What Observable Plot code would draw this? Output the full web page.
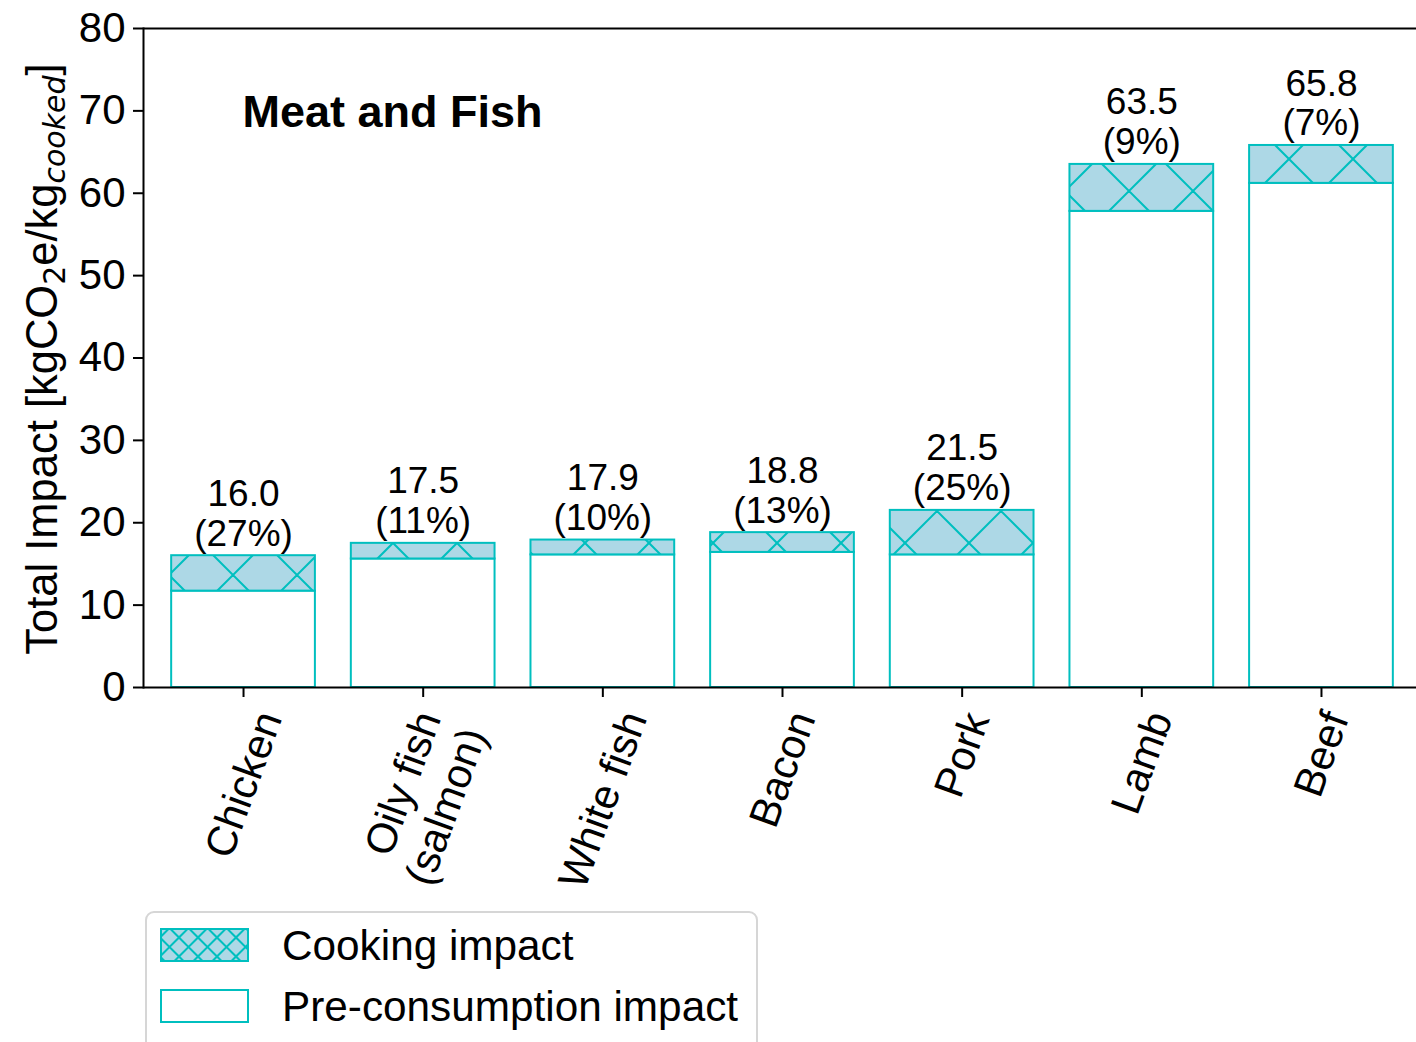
<!DOCTYPE html>
<html><head><meta charset="utf-8">
<script src="https://cdn.jsdelivr.net/npm/d3@7"></script>
<script src="https://cdn.jsdelivr.net/npm/@observablehq/plot@0.6"></script>
<style>
html,body{margin:0;padding:0;background:#fff;overflow:hidden;}
#wrap{position:relative;width:1416px;height:1042px;font-family:"Liberation Sans",Arial,sans-serif;}
#legend{position:absolute;left:145px;top:911px;width:613px;height:145px;border:2px solid #d6d6d6;border-radius:9px;box-sizing:border-box;background:#fff;}
#legend .sw{position:absolute;left:13px;}
#legend .lt{position:absolute;left:135px;font-size:42.3px;line-height:42px;white-space:nowrap;color:#000;}
</style></head><body>
<svg width="0" height="0" style="position:absolute">
  <defs>
    <pattern id="hatchBar" patternUnits="userSpaceOnUse" width="64" height="64">
      <rect width="64" height="64" fill="#add8e6"/>
      <path d="M44,-4L-4,44M68,36L36,68M38,-4L68,26M-4,18L46,68" stroke="#00bfbf" stroke-width="2" fill="none"/>
    </pattern>
    <pattern id="hatchLegend" patternUnits="userSpaceOnUse" width="19" height="19">
      <rect width="19" height="19" fill="#add8e6"/>
      <path d="M11.5,-2L-2,11.5M21,7.5L7.5,21M7.5,-2L21,11.5M-2,7.5L11.5,21" stroke="#00bfbf" stroke-width="2" fill="none"/>
    </pattern>
  </defs>
</svg>
<div id="wrap"><div id="chart"></div><div id="legend"></div></div>
<script>
// ---- data ----
const categories = ["Chicken", "Oily fish\n(salmon)", "White fish", "Bacon", "Pork", "Lamb", "Beef"];
const totalImpact = [16.0, 17.5, 17.9, 18.8, 21.5, 63.5, 65.8];
const cookingSharePct = [27, 11, 10, 13, 25, 9, 7];
const preConsumption = [11.7, 15.6, 16.1, 16.4, 16.1, 57.8, 61.2];
const yTicks = [0, 10, 20, 30, 40, 50, 60, 70, 80];
const seriesNames = ["Cooking impact", "Pre-consumption impact"];
const titleText = "Meat and Fish";

const rows = categories.map((c, i) => ({
  category: c, total: totalImpact[i], pre: preConsumption[i], share: cookingSharePct[i]
}));

const CYAN = "#00bfbf";
const FONT = '"Liberation Sans", Arial, sans-serif';

const chart = Plot.plot({
  width: 1416, height: 900,
  marginLeft: 143, marginRight: 0, marginTop: 28, marginBottom: 213,
  style: {fontFamily: FONT, background: "white", color: "black", overflow: "visible"},
  x: {domain: categories, range: [153.2, 1410.8], paddingInner: 0.2, paddingOuter: 0.1, round: false, label: null},
  y: {domain: [0, 80], label: null},
  marks: [
    Plot.barY(rows, {x: "category", y1: 0, y2: "pre", fill: "white", stroke: CYAN, strokeWidth: 2}),
    Plot.barY(rows, {x: "category", y1: "pre", y2: "total", fill: "url(#hatchBar)", stroke: CYAN, strokeWidth: 2}),
    Plot.text(rows, {x: "category", y: "total", text: d => `${d.total.toFixed(1)}\n(${d.share}%)`,
      lineAnchor: "bottom", dy: -10, fontSize: 37, lineHeight: 1.08, fill: "black"}),
    Plot.text([titleText], {text: d => d, frameAnchor: "top-left", dx: 99, dy: 67, fontSize: 45,
      fontWeight: "bold", textAnchor: "start", lineAnchor: "top", fill: "black"}),
    Plot.axisY({ticks: yTicks, tickSize: 10, tickPadding: 8, fontSize: 42, strokeWidth: 2, label: null}),
    Plot.axisX({tickSize: 10, tickPadding: 8, fontSize: 42, strokeWidth: 2, tickRotate: -70, lineHeight: 1.15, label: null}),
    Plot.ruleY([0, 80], {stroke: "black", strokeWidth: 2}),
    Plot.frame({anchor: "left", stroke: "black", strokeWidth: 2})
  ]
});

document.getElementById("chart").append(chart);
const svg = d3.select(chart);

// y-axis label with sub-scripts
const lab = svg.append("text")
  .attr("transform", "translate(57,359) rotate(-90)")
  .attr("text-anchor", "middle").attr("font-size", 43.5).attr("font-family", FONT).attr("fill", "black");
lab.append("tspan").text("Total Impact [kgCO");
lab.append("tspan").attr("dy", 8).attr("font-size", 30).attr("font-family", "DejaVu Sans").text("2");
lab.append("tspan").attr("dy", -8).text("e/kg");
lab.append("tspan").attr("dy", 8).attr("font-size", 30).attr("font-family", "DejaVu Sans").attr("font-style", "italic").text("cooked");
lab.append("tspan").attr("dy", -8).text("]");

// centre rotated x tick labels on their ticks (matplotlib-like ha=center, va=top)
const xs = chart.scale("x");
const svgRect = chart.getBoundingClientRect();
const targetTop = 705;
svg.selectAll('g[aria-label="x-axis tick label"] text').each(function(_, i) {
  const r = this.getBoundingClientRect();
  const cx = (r.left + r.right) / 2 - svgRect.left;
  const top = r.top - svgRect.top;
  const tx = xs.apply(categories[i]) + xs.bandwidth / 2;
  const t = this.getAttribute("transform") || "";
  this.setAttribute("transform", `translate(${(tx - cx).toFixed(2)},${(targetTop - top).toFixed(2)}) ${t}`);
});

// legend
const legend = d3.select("#legend");
const fills = ["url(#hatchLegend)", "white"];
seriesNames.forEach((name, i) => {
  const top = 16 + i * 61;
  legend.append("svg").attr("class", "sw").style("top", `${top - 1}px`).attr("width", 89).attr("height", 34)
    .append("rect").attr("x", 1).attr("y", 1).attr("width", 87).attr("height", 32)
    .attr("fill", fills[i]).attr("stroke", CYAN).attr("stroke-width", 2);
  legend.append("div").attr("class", "lt").style("top", `${top - 4.5}px`).text(name);
});
</script>
</body></html>
